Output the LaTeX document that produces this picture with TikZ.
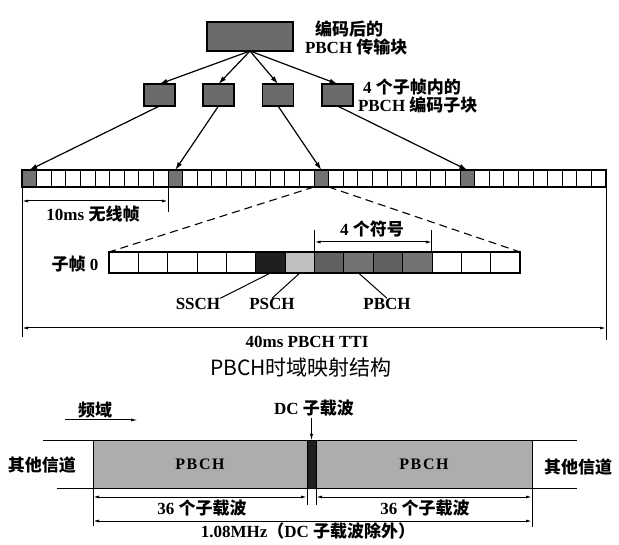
\documentclass[tikz,border=0pt]{standalone}
\usepackage{fontspec}
\setmainfont{Liberation Serif}
\newfontfamily\cjk{Noto Sans CJK SC}
\newfontfamily\ttlfont{Noto Sans CJK SC}
\usetikzlibrary{arrows.meta,calc}
\newcommand{\zh}[1]{{\fontsize{17}{18}\selectfont\cjk\bfseries #1}}
\tikzset{
  every node/.style={font=\fontsize{17}{19}\selectfont\bfseries, inner sep=0pt, outer sep=0pt},
  blk/.style={draw, line width=1.2pt, fill=black!58},
  fcell/.style={draw, line width=0.9pt, minimum width=14.6pt, minimum height=17pt},
  scell/.style={draw, line width=0.9pt, minimum width=29.36pt, minimum height=21pt},
  pbox/.style={draw, line width=1pt, fill=black!32, anchor=north west, minimum height=47pt},
  arr/.style={-{Latex[length=8pt,width=5pt]}, line width=1.2pt},
  dim/.style={{Latex[length=6pt,width=3pt]}-{Latex[length=6pt,width=3pt]}, line width=1pt},
  thin/.style={line width=1pt},
  lab2/.style={anchor=west, align=left, font=\fontsize{17}{18}\selectfont\bfseries,
    execute at begin node={\lineskiplimit=-100pt\lineskip=0pt}},
}
\begin{document}
\begin{tikzpicture}[x=1pt,y=-1pt]
\useasboundingbox (0,0) rectangle (619,545);
\fill[white] (0,0) rectangle (619,545);
% --- top tree ---
\node[blk, minimum width=86pt, minimum height=29pt] (tb) at (250,36.5) {};
\node[lab2] (tbl) at (305,38.5) {\hspace*{10pt}\zh{编码后的}\\PBCH \zh{传输块}};
\node[blk, minimum width=31pt, minimum height=22pt] (sb1) at (159.5,95) {};
\node[blk, minimum width=31pt, minimum height=22pt] (sb2) at (218.5,95) {};
\node[blk, minimum width=31pt, minimum height=22pt] (sb3) at (278,95) {};
\node[blk, minimum width=31pt, minimum height=22pt] (sb4) at (337.5,95) {};
\node[lab2] (sbl) at (358,96) {\hspace*{5pt}4 \zh{个子帧内的}\\PBCH \zh{编码子块}};
\foreach \k in {1,...,4} \draw[arr] (tb.south) -- (sb\k.north);
% --- 40 ms frame ---
\foreach \i in {0,...,39}{
  \pgfmathtruncatemacro\r{mod(\i,10)}
  \ifnum\r=0 \def\fc{black!55}\else\def\fc{white}\fi
  \node[fcell, fill=\fc] (f\i) at ({22+14.6*(\i+0.5)},178.5) {};
}
\draw[line width=1.3pt] (f0.north west) rectangle (f39.south east);
\draw[arr] (sb1.south) -- (f0.north);
\draw[arr] (sb2.south) -- (f10.north);
\draw[arr] (sb3.south) -- (f20.north);
\draw[arr] (sb4.south) -- (f30.north);
\draw[thin] (f0.south west) -- ++(0,150);
\draw[thin] (f39.south east) -- ++(0,153);
\draw[thin] (f10.south west) -- ++(0,25);
\draw[dim] ($(f0.south west)+(0,14)$) -- ($(f10.south west)+(0,14)$);
\node (tenms) at (93,214) {10ms \zh{无线帧}};
% --- subframe 0 ---
\foreach \c [count=\j from 0] in {white,white,white,white,white,black!88,black!25,black!62,black!55,black!62,black!55,white,white,white}{
  \node[scell, fill=\c] (s\j) at ({109+29.36*(\j+0.5)},262.5) {};
}
\draw[line width=1.2pt] (s0.north west) rectangle (s13.south east);
\draw[dashed, dash pattern=on 8pt off 5pt, line width=1.1pt] (f20.south west) -- (s0.north west);
\draw[dashed, dash pattern=on 8pt off 5pt, line width=1.1pt] (f20.south east) -- (s13.north east);
\node (sf) at (75,264) {\zh{子帧} 0};
\draw[thin] (s7.north west) -- ++(0,-22);
\draw[thin] (s10.north east) -- ++(0,-22);
\draw[dim] ($(s7.north west)+(0,-10)$) -- ($(s10.north east)+(0,-10)$);
\node (sym) at (372,229) {4 \zh{个符号}};
\node (ssch) at (198,304) {SSCH};
\node (psch) at (272,304) {PSCH};
\node (pbch) at (387,304) {PBCH};
\draw[thin] (s5.south) -- (ssch.north east);
\draw[thin] (s6.south) -- (psch.north);
\draw[thin] (s8.south) -- (pbch.north);
\draw[dim] ($(f0.south west)+(0,141)$) -- ($(f39.south east)+(0,141)$);
\node (tti) at (307,342) {40ms PBCH TTI};
% --- title ---
\node[font=\fontsize{21}{23}\selectfont\ttlfont] (title) at (301,368) {PBCH时域映射结构};
% --- frequency domain ---
\node (fd) at (95,410) {\zh{频域}};
\coordinate (fa) at (65,420);
\coordinate (fb) at (138,420);
\draw[-{Latex[length=7pt,width=3pt]}, thin] (fa) -- (fb);
\coordinate (tl1) at (43,441);  \coordinate (tl2) at (577,441);
\coordinate (bl1) at (57,488);  \coordinate (bl2) at (577,488);
\draw[thin] (tl1) -- (tl2);
\draw[thin] (bl1) -- (bl2);
\node[pbox, minimum width=214pt, font=\fontsize{16}{18}\selectfont\bfseries\addfontfeature{LetterSpace=10}] (pl) at (93,441) {PBCH};
\node[pbox, fill=black!88, minimum width=9pt] (dc) at (307,441) {};
\node[pbox, minimum width=216pt, font=\fontsize{16}{18}\selectfont\bfseries\addfontfeature{LetterSpace=10}] (pr) at (316,441) {PBCH};
\node (oc1) at (42,465) {\zh{其他信道}};
\node (oc2) at (578,467) {\zh{其他信道}};
\node (dct) at (314,408) {DC \zh{子载波}};
\coordinate (dcs) at (311.5,418);
\draw[-{Latex[length=7pt,width=3pt]}, thin] (dcs) -- (dc.north);
\draw[thin] (pl.south west) -- ++(0,38);
\draw[thin] (pl.south east) -- ++(0,17);
\draw[thin] (pr.south west) -- ++(0,17);
\draw[thin] (pr.south east) -- ++(0,39);
\draw[dim] ($(pl.south west)+(0,9)$) -- ($(pl.south east)+(0,9)$);
\draw[dim] ($(pr.south west)+(0,9)$) -- ($(pr.south east)+(0,9)$);
\node (n36a) at (202,508) {36 \zh{个子载波}};
\node (n36b) at (425,508) {36 \zh{个子载波}};
\draw[dim] ($(pl.south west)+(0,33)$) -- ($(pr.south east)+(0,33)$);
\node (mhz) at (308,531) {1.08MHz\zh{（}DC \zh{子载波除外）}};
\end{tikzpicture}
\end{document}
